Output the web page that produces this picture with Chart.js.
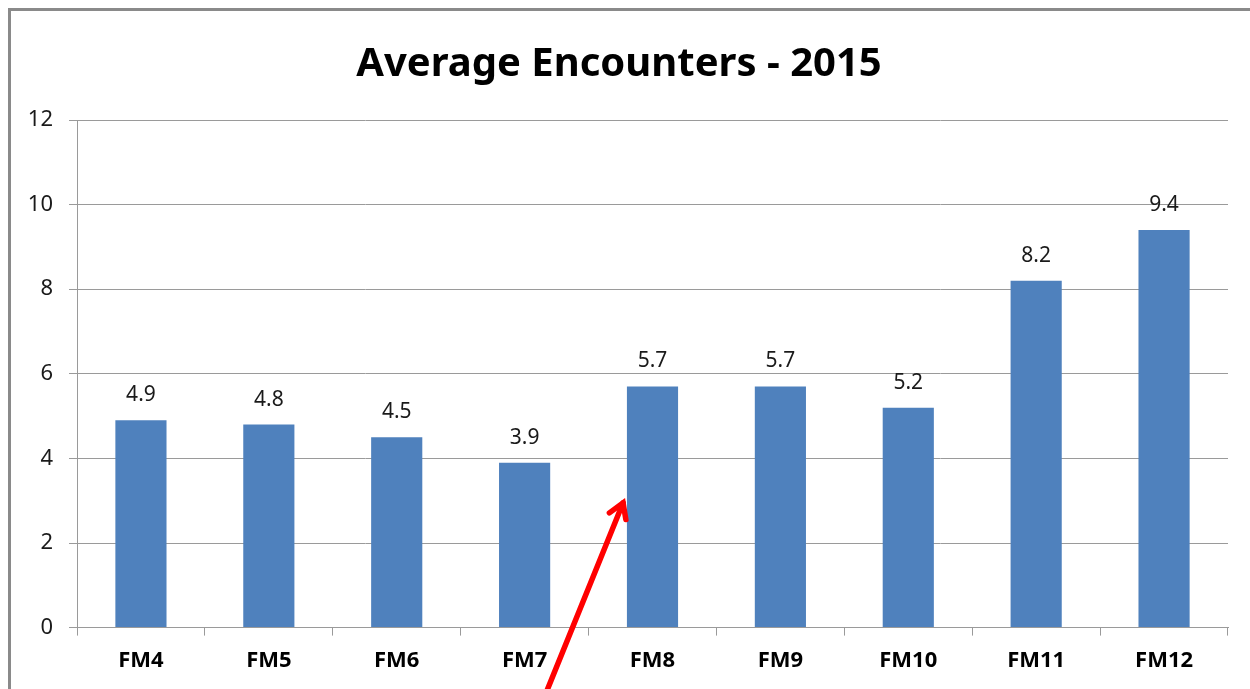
<!DOCTYPE html>
<html>
<head>
<meta charset="utf-8">
<script src="https://cdn.jsdelivr.net/npm/chart.js@4.4.0/dist/chart.umd.min.js"></script>
<style>
  html, body { margin: 0; padding: 0; background: #fff; }
  #wrap { position: relative; width: 1250px; height: 689px; }
</style>
</head>
<body>
<div id="wrap"><canvas id="chart" width="1250" height="689"></canvas></div>
<script>
// chart data
const categories = ['FM4', 'FM5', 'FM6', 'FM7', 'FM8', 'FM9', 'FM10', 'FM11', 'FM12'];
const encounters = [4.9, 4.8, 4.5, 3.9, 5.7, 5.7, 5.2, 8.2, 9.4];
const yTicks = [0, 2, 4, 6, 8, 10, 12];

const FONT = '"Noto Sans", "DejaVu Sans", sans-serif';
const GRID = '#9a9a9a';

// frame of the slide (left + top edge) and red arrow pointing at FM8
const decorations = {
    id: 'decorations',
    beforeDraw(chart) {
        const ctx = chart.ctx;
        ctx.save();
        ctx.strokeStyle = '#8a8a8a';
        ctx.lineWidth = 3;
        ctx.beginPath();
        ctx.moveTo(9.5, 689);
        ctx.lineTo(9.5, 9.5);
        ctx.lineTo(1250, 9.5);
        ctx.stroke();
        ctx.restore();
    },
    afterDraw(chart) {
        const ctx = chart.ctx;
        const x = chart.scales.x, y = chart.scales.y;
        // arrow positioned relative to the axes
        const x1 = x.getPixelForValue(3.16), y1 = y.getPixelForValue(-1.6);
        const x2 = x.getPixelForValue(3.77), y2 = y.getPixelForValue(2.95);
        const ang = Math.atan2(y2 - y1, x2 - x1);
        const head = 17;
        ctx.save();
        ctx.strokeStyle = '#ff0000';
        ctx.lineWidth = 5.5;
        ctx.lineCap = 'round';
        ctx.lineJoin = 'miter';
        ctx.beginPath();
        ctx.moveTo(x1, y1);
        ctx.lineTo(x2, y2);
        ctx.stroke();
        ctx.beginPath();
        ctx.moveTo(x2 + head * Math.cos(ang + Math.PI - 0.55), y2 + head * Math.sin(ang + Math.PI - 0.55));
        ctx.lineTo(x2, y2);
        ctx.lineTo(x2 + head * Math.cos(ang + Math.PI + 0.55), y2 + head * Math.sin(ang + Math.PI + 0.55));
        ctx.stroke();
        ctx.restore();
    }
};

// value labels above each bar
const valueLabels = {
    id: 'valueLabels',
    afterDatasetsDraw(chart) {
        const ctx = chart.ctx;
        const meta = chart.getDatasetMeta(0);
        ctx.save();
        ctx.fillStyle = '#1a1a1a';
        ctx.font = '21px ' + FONT;
        ctx.textAlign = 'center';
        ctx.textBaseline = 'middle';
        meta.data.forEach((bar, i) => {
            ctx.fillText(encounters[i].toFixed(1), bar.x, bar.y - 25);
        });
        ctx.restore();
    }
};

new Chart(document.getElementById('chart').getContext('2d'), {
    type: 'bar',
    data: {
        labels: categories,
        datasets: [{
            data: encounters,
            backgroundColor: '#4f81bd',
            categoryPercentage: 1.0,
            barPercentage: 0.4
        }]
    },
    options: {
        responsive: false,
        animation: false,
        layout: { padding: { left: 10, right: 22, top: 10, bottom: 3 } },
        scales: {
            x: {
                grid: { drawOnChartArea: false, drawTicks: true, tickLength: 8, color: GRID },
                border: { color: GRID, width: 1 },
                ticks: { color: '#000', padding: 12, font: { family: FONT, size: 22, weight: 'bold' } }
            },
            y: {
                min: 0,
                max: 12,
                afterBuildTicks(scale) { scale.ticks = yTicks.map(v => ({ value: v })); },
                afterFit(scale) { scale.width = 67; },
                grid: { color: GRID, tickLength: 8 },
                border: { color: GRID, width: 1 },
                ticks: { color: '#1a1a1a', padding: 16, font: { family: FONT, size: 22 } }
            }
        },
        plugins: {
            legend: { display: false },
            tooltip: { enabled: false },
            title: {
                display: true,
                text: 'Average Encounters - 2015',
                color: '#000',
                font: { family: FONT, size: 40, weight: 'bold' },
                padding: { top: 31, bottom: 31 }
            }
        }
    },
    plugins: [decorations, valueLabels]
});
</script>
</body>
</html>
